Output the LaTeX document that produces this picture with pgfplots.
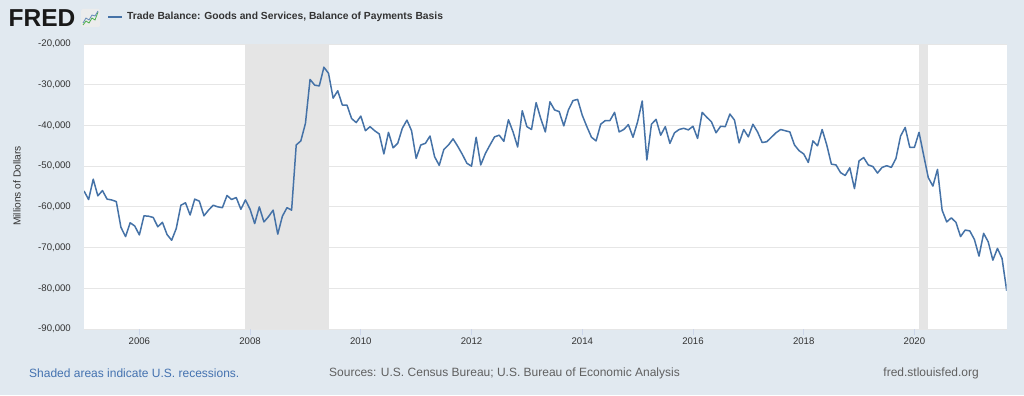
\documentclass[border=0pt]{standalone}
\usepackage{pgfplots}
\pgfplotsset{compat=1.18}
\usepackage{fontspec}
\setmainfont{Liberation Sans}
\definecolor{bgc}{HTML}{E1E9F0}
\definecolor{gridc}{HTML}{E6E6E6}
\definecolor{recess}{HTML}{E5E5E5}
\definecolor{linec}{HTML}{4572A7}
\definecolor{txt}{HTML}{333333}
\definecolor{foot}{HTML}{606060}
\definecolor{footblue}{HTML}{4472B0}
\definecolor{tickc}{HTML}{CCD6EB}
\begin{document}
\begin{tikzpicture}[x=1bp,y=1bp]
\path[use as bounding box] (0,0) rectangle (1024,395);
\fill[bgc] (0,0) rectangle (1024,395);
% header
\node[anchor=west, inner sep=0pt, text=black!90] at (8.5,376.5) {\fontsize{24.5bp}{25bp}\selectfont\bfseries FRED};
\fill[white!85!gray, rounded corners=1.5bp] (81,368) rectangle (100,386);
\draw[green!55!black!70, line width=0.8bp] (83,370) -- (86,374) -- (89,372) -- (92,377) -- (95,375) -- (98,383);
\draw[linec!80, line width=0.8bp] (83,372) -- (86,377) -- (89,375) -- (92,380) -- (95,379) -- (98,384);
\draw[linec, line width=1.6bp] (108,378) -- (122,378);
\node[anchor=west, inner sep=0pt, text=txt] at (127,378) {\fontsize{10.3bp}{12bp}\selectfont\bfseries Trade Balance: Goods and Services, Balance of Payments Basis};
% footer
\node[anchor=west, inner sep=0pt, text=footblue] at (29,22) {\fontsize{12bp}{14bp}\selectfont Shaded areas indicate U.S. recessions.};
\node[anchor=west, inner sep=0pt, text=foot] at (329,22) {\fontsize{12bp}{14bp}\selectfont Sources: U.S. Census Bureau; U.S. Bureau of Economic Analysis};
\node[anchor=east, inner sep=0pt, text=foot] at (979,22) {\fontsize{12bp}{14bp}\selectfont fred.stlouisfed.org};
% y label
\node[rotate=90, inner sep=0pt, text=txt] at (17,209) {\fontsize{10.2bp}{12bp}\selectfont Millions of Dollars};
\begin{axis}[
  at={(84bp,66bp)}, anchor=south west,
  scale only axis, width=922.67bp, height=285bp,
  xmin=0, xmax=200, ymin=-90000, ymax=-20000,
  scaled y ticks=false, scaled x ticks=false,
  axis background/.style={fill=white},
  axis line style={draw=none},
  xtick={12,36,60,84,108,132,156,180},
  xticklabels={2006,2008,2010,2012,2014,2016,2018,2020},
  ytick={-90000,-80000,-70000,-60000,-50000,-40000,-30000,-20000},
  yticklabels={{-90,000},{-80,000},{-70,000},{-60,000},{-50,000},{-40,000},{-30,000},{-20,000}},
  xtick pos=bottom, ytick pos=left,
  xtick align=outside,
  major tick length=6bp,
  x tick style={draw=tickc, line width=0.8bp},
  y tick style={draw=none},
  ymajorgrids, grid style={draw=gridc, line width=0.9bp},
  x tick label style={font=\fontsize{9.6bp}{11bp}\selectfont, text=txt, inner sep=0pt, yshift=-3bp},
  y tick label style={font=\fontsize{9.6bp}{11bp}\selectfont, text=txt, inner sep=0pt, xshift=-13bp},
  clip=true,
]
\addplot[draw=none, fill=recess] coordinates {(35,-90000) (35,-20000) (53,-20000) (53,-90000)} -- cycle;
\addplot[draw=none, fill=recess] coordinates {(181,-90000) (181,-20000) (183,-20000) (183,-90000)} -- cycle;
\addplot[linec, line width=1.5bp, line join=round, mark=none] table {
0 -56100
1 -58200
2 -53200
3 -57300
4 -56000
5 -58100
6 -58300
7 -58700
8 -65000
9 -67300
10 -63900
11 -64700
12 -66900
13 -62200
14 -62300
15 -62600
16 -64900
17 -63800
18 -66800
19 -68200
20 -65300
21 -59600
22 -59000
23 -62000
24 -58100
25 -58600
26 -62200
27 -60800
28 -59600
29 -60000
30 -60200
31 -57200
32 -58200
33 -57700
34 -60600
35 -58300
36 -60600
37 -64100
38 -60000
39 -63700
40 -62400
41 -60800
42 -66700
43 -62300
44 -60200
45 -60800
46 -44800
47 -43800
48 -39500
49 -28700
50 -30100
51 -30300
52 -25700
53 -27200
54 -33300
55 -31500
56 -35000
57 -35000
58 -38300
59 -39300
60 -37700
61 -41300
62 -40300
63 -41300
64 -42100
65 -47000
66 -41700
67 -45500
68 -44400
69 -40700
70 -38700
71 -41300
72 -48100
73 -44800
74 -44400
75 -42600
76 -47700
77 -49800
78 -45900
79 -44800
80 -43300
81 -45100
82 -47100
83 -49300
84 -50000
85 -42900
86 -49700
87 -46900
88 -44800
89 -42800
90 -42400
91 -43900
92 -38600
93 -41600
94 -45300
95 -36400
96 -40300
97 -41000
98 -34400
99 -38300
100 -41600
101 -34200
102 -36200
103 -36600
104 -40100
105 -36200
106 -33900
107 -33600
108 -37500
109 -40300
110 -42900
111 -43800
112 -39700
113 -38800
114 -38800
115 -36800
116 -41600
117 -41000
118 -39800
119 -42900
120 -39100
121 -34000
122 -48500
123 -39700
124 -38500
125 -42400
126 -40300
127 -44400
128 -41800
129 -41000
130 -40700
131 -41100
132 -40200
133 -43200
134 -36800
135 -38000
136 -39100
137 -41800
138 -40200
139 -40300
140 -37200
141 -38700
142 -44300
143 -41000
144 -42800
145 -39700
146 -41600
147 -44200
148 -44000
149 -42900
150 -41800
151 -41000
152 -41300
153 -41600
154 -44800
155 -46200
156 -47000
157 -49100
158 -43800
159 -45000
160 -41000
161 -44800
162 -49500
163 -49700
164 -51600
165 -52300
166 -50400
167 -55500
168 -48700
169 -47900
170 -49700
171 -50100
172 -51700
173 -50300
174 -49900
175 -50300
176 -48100
177 -42600
178 -40500
179 -45400
180 -45400
181 -41700
182 -47300
183 -52800
184 -54900
185 -50800
186 -60800
187 -63700
188 -62700
189 -63800
190 -67300
191 -65700
192 -65900
193 -68000
194 -72100
195 -66500
196 -68600
197 -73100
198 -70200
199 -72700
200 -80600
};
\end{axis}
\end{tikzpicture}
\end{document}
